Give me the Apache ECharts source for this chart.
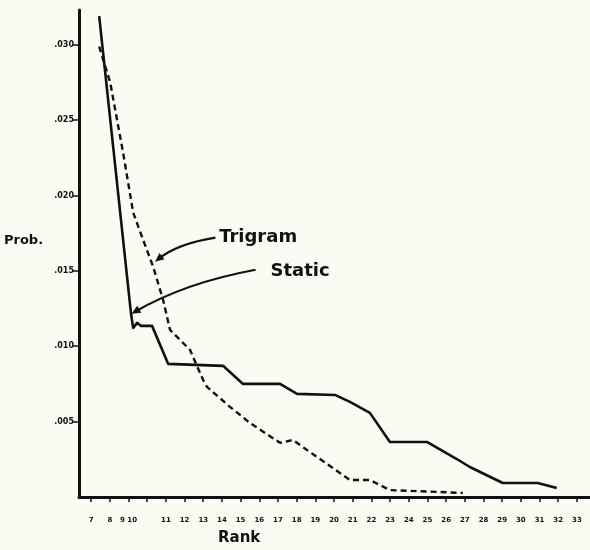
<!DOCTYPE html>
<html>
<head>
<meta charset="utf-8">
<script src="https://cdn.jsdelivr.net/npm/echarts@6/dist/echarts.min.js"></script>
<style>
html,body{margin:0;padding:0;background:#fbfaf3;}
#c{width:590px;height:550px;}
</style>
</head>
<body>
<div id="c"></div>
<script>
// Rank ticks and labels as printed
const xTickValues = [7,8,9,10,11,12,13,14,15,16,17,18,19,20,21,22,23,24,25,26,27,28,29,30,31,32,33];
const xTickLabels = ['7','8','9 10','','11','12','13','14','15','16','17','18','19','20','21','22','23','24','25','26','27','28','29','30','31','32','33'];
const yTickValues = [0.005,0.010,0.015,0.020,0.025,0.030];
const yTickLabels = ['.005','.010','.015','.020','.025','.030'];

// Static (solid) curve: rank, probability
const staticRank = [7.43,9.14,9.25,9.46,9.67,10.26,11.12,14.06,15.13,17.11,18.02,20.05,20.85,21.92,22.99,24.97,26.57,27.27,29.03,30.9,31.92];
const staticProb = [0.0319,0.0121,0.01122,0.01155,0.01135,0.01135,0.00883,0.0087,0.0075,0.0075,0.00684,0.00677,0.00631,0.00558,0.00365,0.00365,0.00252,0.00199,0.00093,0.00093,0.0006];

// Trigram (dashed) curve
const trigramRank = [7.43,8.02,8.71,9.25,9.78,10.32,10.85,11.22,12.29,12.99,13.2,14.43,15.5,17.11,17.8,18.55,20.85,21.92,22.99,26.89];
const trigramProb = [0.02988,0.02749,0.02284,0.01886,0.01706,0.01527,0.01308,0.01109,0.00976,0.00777,0.0073,0.00598,0.00491,0.00359,0.00378,0.00312,0.00113,0.00113,0.00046,0.00027];

// Annotation anchors (data coordinates)
const annTrigram = {text:'Trigram', label:[13.85,0.0172], start:[13.65,0.0172], ctrl:[11.6,0.0168], tip:[10.42,0.0156]};
const annStatic  = {text:'Static',  label:[16.6,0.01497], start:[15.8,0.01507], ctrl:[12.0,0.0142], tip:[9.16,0.01215]};

const ink = '#111';
const chart = echarts.init(document.getElementById('c'));
const zip = (a,b)=>a.map((v,i)=>[v,b[i]]);

chart.setOption({
  backgroundColor:'#fbfaf3',
  animation:false,
  grid:{left:79,right:0,top:10,bottom:53},
  xAxis:{
    type:'value', min:6.35, max:33.7,
    axisLine:{show:true,lineStyle:{color:ink,width:3}},
    axisTick:{show:true,customValues:xTickValues,length:5,lineStyle:{color:ink,width:1.5}},
    axisLabel:{show:true,customValues:xTickValues,margin:20,fontSize:7,fontWeight:'bold',color:ink,fontFamily:'DejaVu Sans',
      formatter:(v)=>{const i=xTickValues.indexOf(Math.round(v));return i>=0?xTickLabels[i]:'';}},
    splitLine:{show:false}
  },
  yAxis:{
    type:'value', min:0, max:0.0323,
    axisLine:{show:true,lineStyle:{color:ink,width:3}},
    axisTick:{show:true,customValues:yTickValues,length:6,lineStyle:{color:ink,width:1.5}},
    axisLabel:{show:true,customValues:yTickValues,margin:5,fontSize:8,fontWeight:'bold',color:ink,fontFamily:'DejaVu Sans',
      formatter:(v)=>{let best=0,d=1;yTickValues.forEach((t,i)=>{if(Math.abs(t-v)<d){d=Math.abs(t-v);best=i;}});return yTickLabels[best];}},
    splitLine:{show:false}
  },
  series:[
    {type:'line',name:'Static',data:zip(staticRank,staticProb),showSymbol:false,
      lineStyle:{color:ink,width:2.6,join:'round'}},
    {type:'line',name:'Trigram',data:zip(trigramRank,trigramProb),showSymbol:false,
      lineStyle:{color:ink,width:2.4,type:[6,4]}}
  ]
});

function P(p){return chart.convertToPixel({xAxisIndex:0,yAxisIndex:0},p);}
function arrow(a){
  const s=P(a.start),c=P(a.ctrl),t=P(a.tip),l=P(a.label);
  const dx=t[0]-c[0],dy=t[1]-c[1],len=Math.hypot(dx,dy),ux=dx/len,uy=dy/len;
  const L=9,W=4;
  const bx=t[0]-ux*L,by=t[1]-uy*L;
  return [
    {type:'bezierCurve',shape:{x1:s[0],y1:s[1],x2:t[0]-ux*4,y2:t[1]-uy*4,cpx1:c[0],cpy1:c[1]},style:{stroke:ink,lineWidth:2.2,fill:null},z:10},
    {type:'polygon',shape:{points:[[t[0],t[1]],[bx-uy*W,by+ux*W],[bx+uy*W,by-ux*W]]},style:{fill:ink},z:10},
    {type:'text',x:l[0],y:l[1],style:{text:a.text,fill:ink,font:'bold 18px "DejaVu Sans"',textVerticalAlign:'middle',textAlign:'left'},z:10}
  ];
}
chart.setOption({graphic:[
  ...arrow(annTrigram),
  ...arrow(annStatic),
  {type:'text',x:4,y:241,style:{text:'Prob.',fill:ink,font:'bold 13px "DejaVu Sans"',textVerticalAlign:'middle'}},
  {type:'text',x:218,y:538,style:{text:'Rank',fill:ink,font:'bold 15px "DejaVu Sans"',textVerticalAlign:'middle'}}
]});
</script>
</body>
</html>
